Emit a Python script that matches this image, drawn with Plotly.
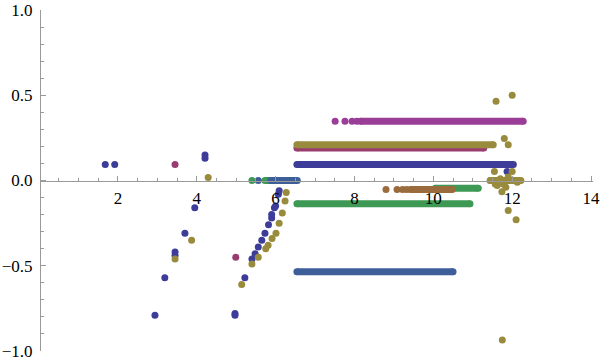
import plotly.graph_objects as go

# isolated points per series
blue_x = [1.68, 1.92, 2.94, 3.19, 3.45, 3.45, 3.70, 3.95, 4.21, 4.21, 4.97, 4.97,
          5.22, 5.40, 5.48, 5.56, 5.65, 5.73, 5.82, 5.90, 5.90, 5.97, 6.00, 6.07, 6.09, 11.87]
blue_y = [0.094, 0.094, -0.79, -0.57, -0.42, -0.44, -0.31, -0.16, 0.15, 0.13, -0.79, -0.78,
          -0.57, -0.46, -0.43, -0.39, -0.35, -0.31, -0.26, -0.22, -0.20, -0.16, -0.15, -0.08, -0.06, 0.053]

crimson_x = [3.45, 4.99]
crimson_y = [0.094, -0.45]

olive_x = [3.45, 3.87, 4.29, 5.14, 5.40, 5.56, 5.75, 5.81, 5.91, 6.01, 6.09, 6.17, 6.24, 6.27,
           11.59, 12.00, 11.80, 11.90, 11.55, 12.00, 11.44, 11.57, 11.70, 11.77, 11.90, 12.03,
           12.13, 12.18, 11.62, 11.84, 11.74, 11.90, 12.10, 11.75]
olive_y = [-0.46, -0.35, 0.018, -0.61, -0.49, -0.45, -0.40, -0.38, -0.34, -0.31, -0.25, -0.19, -0.12, -0.07,
           0.465, 0.50, 0.247, 0.21, 0.053, 0.053, 0.0, -0.02, 0.01, -0.02, 0.02, 0.0,
           -0.01, 0.0, -0.03, -0.04, -0.066, -0.176, -0.23, -0.935]

green_x = [5.40]
green_y = [0.0]

steel_x = [5.56]
steel_y = [0.0]

magenta_x = [7.51, 7.76, 7.94, 8.06]
magenta_y = [0.347, 0.347, 0.347, 0.347]

brown_x = [8.80, 9.08, 9.22, 9.32]
brown_y = [-0.053, -0.053, -0.053, -0.053]

# dense runs of points: (start x, end x, level)
blue_runs = [(6.54, 12.03, 0.094)]
crimson_runs = [(6.54, 11.28, 0.19)]
olive_runs = [(6.54, 11.52, 0.21), (11.45, 12.22, 0.0)]
green_runs = [(5.73, 6.50, 0.0), (6.54, 10.93, -0.137), (10.05, 11.14, -0.045)]
steel_runs = [(5.88, 6.55, 0.0), (6.54, 10.50, -0.535)]
magenta_runs = [(8.15, 12.28, 0.347)]
brown_runs = [(9.42, 10.48, -0.053)]

colors = {
    "blue": "#3d3d99",
    "crimson": "#993d71",
    "olive": "#998b3d",
    "green": "#3d9954",
    "steel": "#3d5e99",
    "magenta": "#9a3d97",
    "brown": "#996b3d",
}

fig = go.Figure()


def add_series(name, xs, ys, runs):
    c = colors[name]
    for x0, x1, lvl in runs:
        fig.add_trace(go.Scatter(x=[x0, x1], y=[lvl, lvl], mode="lines+markers",
                                 line=dict(color=c, width=7),
                                 marker=dict(color=c, size=7), showlegend=False))
    fig.add_trace(go.Scatter(x=xs, y=ys, mode="markers",
                             marker=dict(color=c, size=7), showlegend=False))


add_series("green", green_x, green_y, green_runs)
add_series("steel", steel_x, steel_y, steel_runs)
add_series("brown", brown_x, brown_y, brown_runs)
add_series("crimson", crimson_x, crimson_y, crimson_runs)
add_series("magenta", magenta_x, magenta_y, magenta_runs)
add_series("blue", blue_x, blue_y, blue_runs)
add_series("olive", olive_x, olive_y, olive_runs)

axis_col = "#9a9a9a"
tick_font = dict(family="Liberation Serif", size=17, color="black")

fig.update_layout(
    width=600, height=362,
    margin=dict(l=41, r=7, t=10, b=11),
    plot_bgcolor="white", paper_bgcolor="white",
    hovermode=False,
    xaxis=dict(range=[0.05, 14.05], showgrid=False, zeroline=False, automargin=False,
               anchor="free", position=0.5, showline=True, linecolor=axis_col, linewidth=1,
               ticks="inside", ticklen=5, tickcolor=axis_col,
               tickvals=[2, 4, 6, 8, 10, 12, 14], ticktext=["2", "4", "6", "8", "10", "12", "14"],
               tickfont=tick_font, ticklabelstandoff=2, ticklabeloverflow="allow",
               minor=dict(ticks="inside", ticklen=3, tickcolor=axis_col, dtick=0.5, tick0=0, showgrid=False)),
    yaxis=dict(range=[-1, 1], showgrid=False, zeroline=False, automargin=False,
               showline=True, linecolor=axis_col, linewidth=1,
               ticks="inside", ticklen=5, tickcolor=axis_col,
               tickvals=[-1, -0.5, 0, 0.5, 1], ticktext=["\u22121.0", "\u22120.5", "0.0", "0.5", "1.0"],
               tickfont=tick_font, ticklabelstandoff=4, ticklabeloverflow="allow",
               minor=dict(ticks="inside", ticklen=3, tickcolor=axis_col, dtick=0.1, tick0=0, showgrid=False)),
)

# page body has a default margin; drop it so the figure sits at the window corner
fig.write_html("out.html", config={"displayModeBar": False},
               post_script="document.body.style.margin='0';")
